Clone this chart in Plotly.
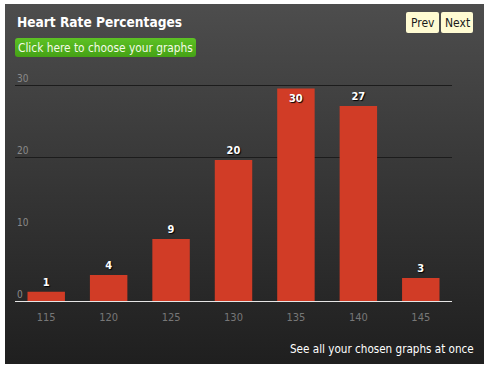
import base64
import plotly.graph_objects as go

# ---- data ----
categories = ["115", "120", "125", "130", "135", "140", "145"]
values = [1.3, 3.6, 8.6, 19.6, 29.5, 27.1, 3.2]
value_labels = ["1", "4", "9", "20", "30", "27", "3"]
y_tick_values = [0, 10, 20, 30]
y_tick_labels = ["0", "10", "20", "30"]
grid_values = [20, 30]

W, H = 487, 370
FONT = "DejaVu Sans Condensed, DejaVu Sans, sans-serif"

def px(x):
    return x / W

def py(y):
    return 1 - y / H

Y_TOP = 30.2
PX_PER_UNIT = (301 - 85) / 30.0

# decorative background (gradient panel + buttons) as inline SVG
svg = f"""<svg xmlns='http://www.w3.org/2000/svg' width='{W}' height='{H}' viewBox='0 0 {W} {H}' preserveAspectRatio='none'>
<defs>
<linearGradient id='g' x1='0' y1='0' x2='0' y2='1'>
<stop offset='0' stop-color='#4d4d4d'/><stop offset='0.45' stop-color='#383838'/><stop offset='1' stop-color='#1f1f1f'/>
</linearGradient>
<linearGradient id='b' x1='0' y1='0' x2='0' y2='1'>
<stop offset='0' stop-color='#5dc224'/><stop offset='1' stop-color='#45a115'/>
</linearGradient>
</defs>
<rect x='0' y='0' width='{W}' height='{H}' fill='#ffffff'/>
<rect x='5' y='4' width='479' height='360' fill='url(#g)'/>
<rect x='15' y='38' width='181' height='19' rx='3' ry='3' fill='url(#b)'/>
<rect x='406' y='12' width='33' height='21' rx='2' ry='2' fill='#fffbd2'/>
<rect x='441' y='12' width='32' height='21' rx='2' ry='2' fill='#fffbd2'/>
</svg>"""
svg_uri = "data:image/svg+xml;base64," + base64.b64encode(svg.encode()).decode()

textpos = ["inside" if v == max(values) else "outside" for v in values]
label_font = dict(family=FONT, size=11, color="white", weight="bold", shadow="1px 1px 1px #000")

fig = go.Figure(
    go.Bar(
        x=categories,
        y=values,
        text=value_labels,
        textposition=textpos,
        insidetextanchor="end",
        textangle=0,
        cliponaxis=False,
        marker=dict(color="#d13c26", line=dict(width=0)),
        textfont=label_font,
        insidetextfont=label_font,
        outsidetextfont=label_font,
        hoverinfo="skip",
    )
)

annotations = [
    dict(text="<b>Heart Rate Percentages</b>", x=px(15), y=py(22), xref="paper", yref="paper",
         xanchor="left", yanchor="middle", showarrow=False,
         font=dict(family=FONT, size=13.6, color="white")),
    dict(text="Click here to choose your graphs", x=px(105.5), y=py(47.5), xref="paper", yref="paper",
         xanchor="center", yanchor="middle", showarrow=False,
         font=dict(family=FONT, size=11.8, color="#f4fbe8")),
    dict(text="Prev", x=px(422.5), y=py(22.5), xref="paper", yref="paper",
         xanchor="center", yanchor="middle", showarrow=False,
         font=dict(family=FONT, size=12, color="#1a1a1a")),
    dict(text="Next", x=px(457), y=py(22.5), xref="paper", yref="paper",
         xanchor="center", yanchor="middle", showarrow=False,
         font=dict(family=FONT, size=12, color="#1a1a1a")),
    dict(text="See all your chosen graphs at once", x=px(476), y=py(349), xref="paper", yref="paper",
         xanchor="right", yanchor="middle", showarrow=False,
         font=dict(family=FONT, size=11.6, color="white")),
]
for v, lab in zip(y_tick_values, y_tick_labels):
    annotations.append(dict(text=lab, x=px(15), y=v, xref="paper", yref="y",
                            xanchor="left", yanchor="bottom", showarrow=False, yshift=-1,
                            font=dict(family=FONT, size=10, color="#8a8a8a")))

fig.update_layout(
    width=W, height=H, autosize=False,
    margin=dict(l=0, r=0, t=0, b=0, pad=0),
    paper_bgcolor="white",
    plot_bgcolor="rgba(0,0,0,0)",
    showlegend=False,
    bargap=0.4,
    images=[dict(source=svg_uri, xref="paper", yref="paper", x=0, y=1, sizex=1, sizey=1,
                 sizing="stretch", xanchor="left", yanchor="top", layer="below")],
    xaxis=dict(domain=[px(15), px(452)], type="category", range=[-0.5, 6.5],
               showline=True, linecolor="#e6e6e6", linewidth=1, showgrid=False,
               ticks="", ticklabelstandoff=6, zeroline=False,
               tickfont=dict(family=FONT, size=11, color="#777777"), fixedrange=True),
    yaxis=dict(domain=[py(301), py(301 - Y_TOP * PX_PER_UNIT)], range=[0, Y_TOP], showticklabels=False,
               tickvals=grid_values, showgrid=True, gridcolor="#1c1c1c", gridwidth=1,
               zeroline=False, showline=False, ticks="", fixedrange=True),
    annotations=annotations,
)

fig.write_html("out.html", config={"displayModeBar": False},
               post_script="document.body.style.margin='0px';document.body.style.padding='0px';")
